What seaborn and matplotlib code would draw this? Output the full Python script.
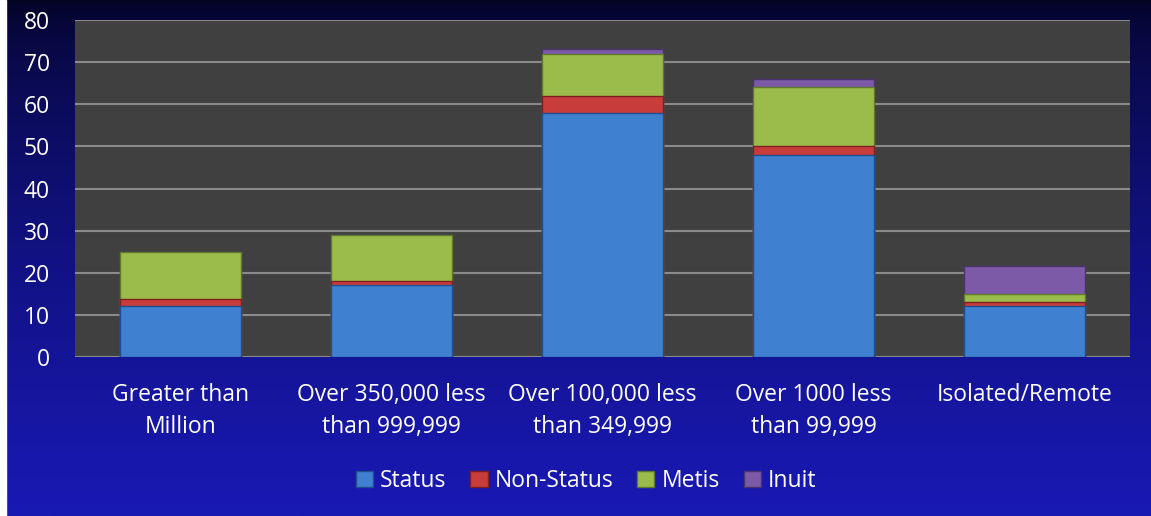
import numpy as np
import pandas as pd
import matplotlib
matplotlib.use('Agg')
import matplotlib.pyplot as plt
import seaborn as sns
from matplotlib.patches import Patch, Rectangle

categories = ['Greater than\nMillion', 'Over 350,000 less\nthan 999,999',
              'Over 100,000 less\nthan 349,999', 'Over 1000 less\nthan 99,999',
              'Isolated/Remote']
status = [12, 17, 58, 48, 12]
non_status = [1.7, 1, 4, 2, 1]
metis = [11.3, 11, 10, 14, 2]
inuit = [0, 0, 1, 2, 6.5]

series = ['Status', 'Non-Status', 'Metis', 'Inuit']
colors = ['#3f80d0', '#c83c3c', '#9bbb4b', '#7d5aa8']
edges = ['#1f4f8f', '#7f1f1f', '#5f7a2a', '#4a3470']

df = pd.DataFrame({'cat': categories, 'Status': status, 'Non-Status': non_status,
                   'Metis': metis, 'Inuit': inuit})
cum = df[series].cumsum(axis=1)

sns.set_style('white')
plt.rcParams['font.family'] = ['Open Sans', 'DejaVu Sans']

fig = plt.figure(figsize=(11.51, 5.16), dpi=100)

# background gradient
bg = fig.add_axes([0, 0, 1, 1], zorder=0)
grad = np.linspace(0, 1, 256).reshape(-1, 1) ** 0.6
top = np.array([3, 3, 35]) / 255
bot = np.array([25, 25, 180]) / 255
img = top + (bot - top) * grad[:, :, None]
bg.imshow(img, aspect='auto', extent=[0, 1, 0, 1], origin='upper')
bg.add_patch(Rectangle((0, 0), 6 / 1151, 1, color='white'))
bg.set_axis_off()

ax = fig.add_axes([75 / 1151, 1 - 357 / 516, 1055 / 1151, 337 / 516], zorder=1)
ax.set_facecolor('#404040')

for i in reversed(range(len(series))):
    s = series[i]
    sns.barplot(x=df['cat'], y=cum[s], color=colors[i], width=0.57, ax=ax,
                edgecolor=edges[i], linewidth=1, saturation=1, zorder=3)

ax.set_ylim(0, 80)
ax.set_xlim(-0.5, 4.5)
ax.set_yticks(range(0, 81, 10))
ax.yaxis.grid(True, color='#8a8a8a', linewidth=1.5, zorder=0)
ax.set_axisbelow(True)
for sp in ax.spines.values():
    sp.set_visible(False)
ax.set_xlabel('')
ax.set_ylabel('')
ax.tick_params(axis='both', colors='white', labelsize=16.5, length=0)
ax.tick_params(axis='x', pad=19)
ax.tick_params(axis='y', pad=18)
for lab in ax.get_xticklabels():
    lab.set_linespacing(1.45)

handles = [Patch(facecolor=c, edgecolor=e) for c, e in zip(colors, edges)]
fig.legend(handles, series, loc='center', bbox_to_anchor=(586 / 1151, 1 - 481 / 516),
           ncol=4, frameon=False, fontsize=16.5, labelcolor='white',
           handlelength=0.75, handleheight=0.75, handletextpad=0.3, columnspacing=1.05)

fig.savefig('out.png', dpi=100)
